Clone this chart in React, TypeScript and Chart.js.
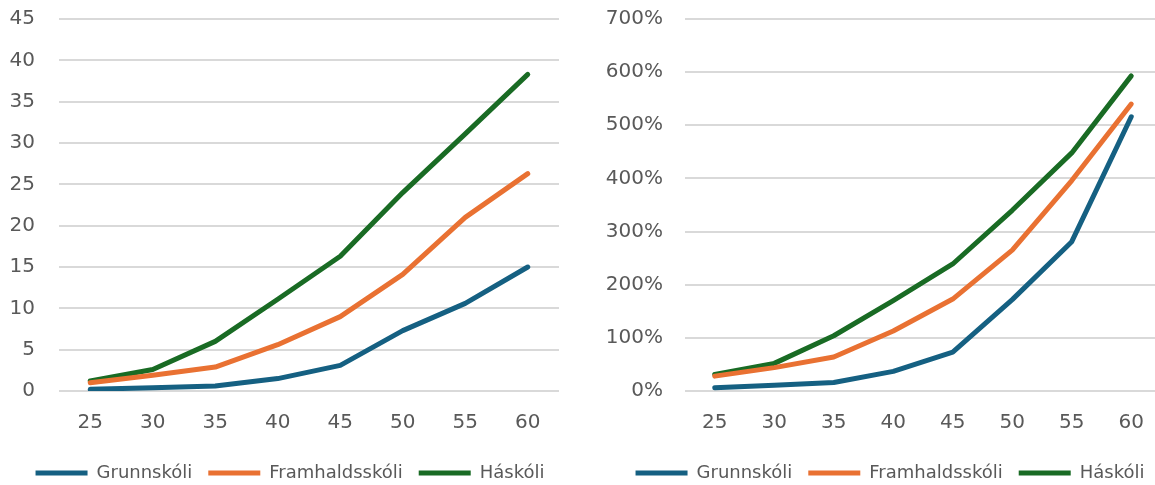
import React, { useEffect, useRef } from "react";
import { Chart, registerables } from "chart.js";

Chart.register(...registerables);

const ages = ["25", "30", "35", "40", "45", "50", "55", "60"];
const seriesNames = ["Grunnskóli", "Framhaldsskóli", "Háskóli"];
const seriesColors = ["#156082", "#E97132", "#196B24"];

// Left chart values
const grunnAbs = [0.2, 0.4, 0.6, 1.5, 3.1, 7.3, 10.6, 15.0];
const framAbs = [1.0, 1.9, 2.9, 5.6, 9.0, 14.1, 21.0, 26.3];
const haskAbs = [1.2, 2.6, 6.0, 11.1, 16.3, 24.0, 31.1, 38.3];

// Right chart values (percent)
const grunnPct = [6, 11, 16, 37, 73, 172, 281, 516];
const framPct = [28, 44, 64, 113, 173, 265, 396, 540];
const haskPct = [31, 52, 104, 170, 239, 340, 448, 593];

const FONT = "'DejaVu Sans', sans-serif";
const TICK_COLOR = "#595959";

function makeConfig(
  values: number[][],
  yMax: number,
  yStep: number,
  pct: boolean,
  yAxisWidth: number,
  rightGap: number,
  yPad: number
): any {
  return {
    type: "line",
    data: {
      labels: ages,
      datasets: values.map((v, i) => ({
        label: seriesNames[i],
        data: v,
        borderColor: seriesColors[i],
        backgroundColor: seriesColors[i],
        borderWidth: 5,
        pointRadius: 0,
        pointHoverRadius: 0,
        tension: 0,
        borderCapStyle: "round",
        borderJoinStyle: "round",
        pointStyle: "line",
      })),
    },
    options: {
      animation: false,
      responsive: false,
      maintainAspectRatio: false,
      layout: { padding: { top: 19, right: 0, left: 0, bottom: -7 } },
      plugins: {
        tooltip: { enabled: false },
        legend: {
          position: "bottom",
          labels: {
            usePointStyle: true,
            pointStyleWidth: 52,
            boxHeight: 5,
            padding: 16,
            color: TICK_COLOR,
            font: { family: FONT, size: 18 },
          },
        },
      },
      scales: {
        x: {
          offset: true,
          grid: { display: false, drawTicks: false },
          border: { display: false },
          afterFit: (scale: any) => {
            scale.height = 57;
          },
          ticks: { color: TICK_COLOR, font: { family: FONT, size: 20 }, padding: 20 },
        },
        y: {
          min: 0,
          max: yMax,
          grid: { color: "#d9d9d9", lineWidth: 2, drawTicks: false },
          border: { display: false },
          afterFit: (scale: any) => {
            scale.width = yAxisWidth;
            scale.paddingTop = 0;
            scale.paddingBottom = 0;
          },
          ticks: {
            stepSize: yStep,
            color: TICK_COLOR,
            padding: yPad,
            font: { family: FONT, size: 20 },
            callback: (v: any) => (pct ? `${v}%` : `${v}`),
          },
        },
        spacer: {
          type: "linear",
          position: "right",
          display: true,
          min: 0,
          max: 1,
          grid: { display: false, drawTicks: false },
          border: { display: false },
          ticks: { display: false },
          afterFit: (scale: any) => {
            scale.width = rightGap;
            scale.paddingTop = 0;
            scale.paddingBottom = 0;
          },
        },
      },
    },
  };
}

function ChartCanvas({ config, width, height, left }: { config: any; width: number; height: number; left: number }) {
  const ref = useRef<HTMLCanvasElement | null>(null);
  useEffect(() => {
    if (!ref.current) return;
    const chart = new Chart(ref.current, config);
    return () => chart.destroy();
  }, [config]);
  return (
    <canvas
      ref={ref}
      width={width}
      height={height}
      style={{ position: "absolute", left, top: 0, width, height }}
    />
  );
}

const leftConfig = makeConfig([grunnAbs, framAbs, haskAbs], 45, 5, false, 59, 21, 24);
const rightConfig = makeConfig([grunnPct, framPct, haskPct], 700, 100, true, 105, 39, 22);

export default function App() {
  return (
    <div
      style={{
        position: "fixed",
        left: 0,
        top: 0,
        width: 1155,
        height: 485,
        overflow: "hidden",
        background: "#ffffff",
      }}
    >
      <ChartCanvas config={leftConfig} width={580} height={485} left={0} />
      <ChartCanvas config={rightConfig} width={620} height={485} left={580} />
    </div>
  );
}
